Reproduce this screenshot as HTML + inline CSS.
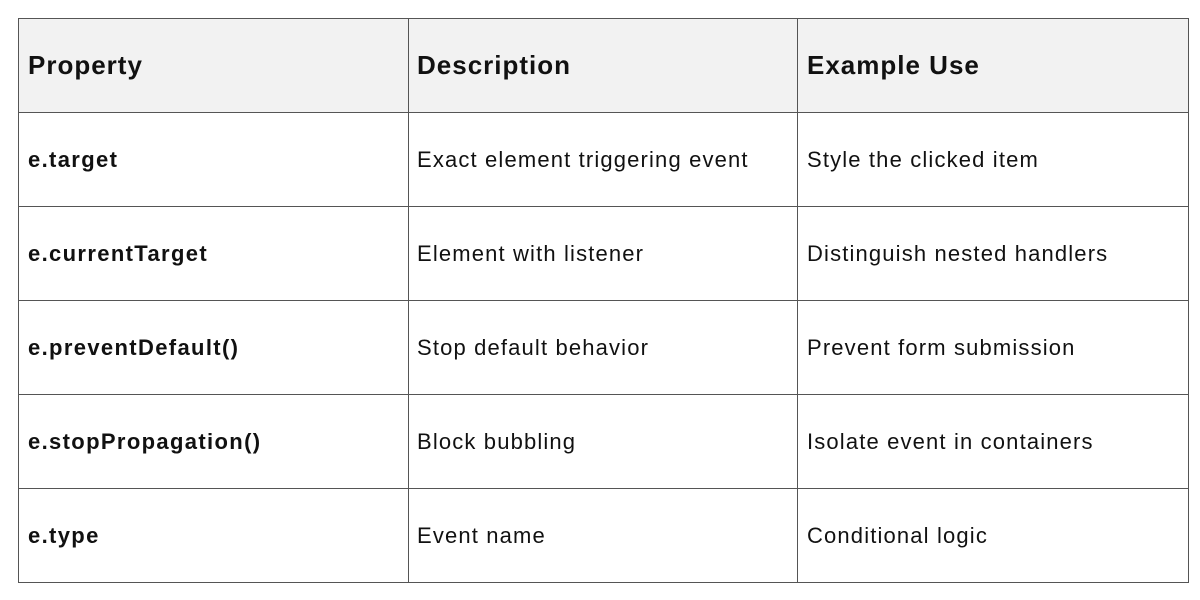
<!DOCTYPE html>
<html><head><style>
body{margin:0;width:1200px;height:600px;background:#fff;position:relative;font-family:"Liberation Sans",sans-serif;color:#111}
.l{position:absolute;background:#555}
.t{position:absolute;font-size:22px;line-height:30px;white-space:nowrap;letter-spacing:1.15px}
.h{font-size:26px;font-weight:bold;letter-spacing:1px}
.b{font-weight:bold;letter-spacing:1.35px}
</style></head><body>
<div style="position:absolute;left:19px;top:19px;width:1169px;height:93px;background:#f2f2f2"></div>
<div class="l" style="left:19px;top:18px;width:1170px;height:1px"></div>
<div class="l" style="left:19px;top:112px;width:1170px;height:1px"></div>
<div class="l" style="left:19px;top:206px;width:1170px;height:1px"></div>
<div class="l" style="left:19px;top:300px;width:1170px;height:1px"></div>
<div class="l" style="left:19px;top:394px;width:1170px;height:1px"></div>
<div class="l" style="left:19px;top:488px;width:1170px;height:1px"></div>
<div class="l" style="left:19px;top:582px;width:1170px;height:1px"></div>
<div class="l" style="left:18px;top:18px;width:1px;height:565px"></div>
<div class="l" style="left:408px;top:18px;width:1px;height:565px"></div>
<div class="l" style="left:797px;top:18px;width:1px;height:565px"></div>
<div class="l" style="left:1188px;top:18px;width:1px;height:565px"></div>

<div class="t h" style="left:28px;top:50px">Property</div>
<div class="t h" style="left:417px;top:50px">Description</div>
<div class="t h" style="left:807px;top:50px">Example Use</div>

<div class="t b" style="left:28px;top:145px">e.target</div>
<div class="t" style="left:417px;top:145px">Exact element triggering event</div>
<div class="t" style="left:807px;top:145px">Style the clicked item</div>

<div class="t b" style="left:28px;top:239px">e.currentTarget</div>
<div class="t" style="left:417px;top:239px">Element with listener</div>
<div class="t" style="left:807px;top:239px">Distinguish nested handlers</div>

<div class="t b" style="left:28px;top:333px">e.preventDefault()</div>
<div class="t" style="left:417px;top:333px">Stop default behavior</div>
<div class="t" style="left:807px;top:333px">Prevent form submission</div>

<div class="t b" style="left:28px;top:427px">e.stopPropagation()</div>
<div class="t" style="left:417px;top:427px">Block bubbling</div>
<div class="t" style="left:807px;top:427px">Isolate event in containers</div>

<div class="t b" style="left:28px;top:521px">e.type</div>
<div class="t" style="left:417px;top:521px">Event name</div>
<div class="t" style="left:807px;top:521px">Conditional logic</div>
</body></html>
